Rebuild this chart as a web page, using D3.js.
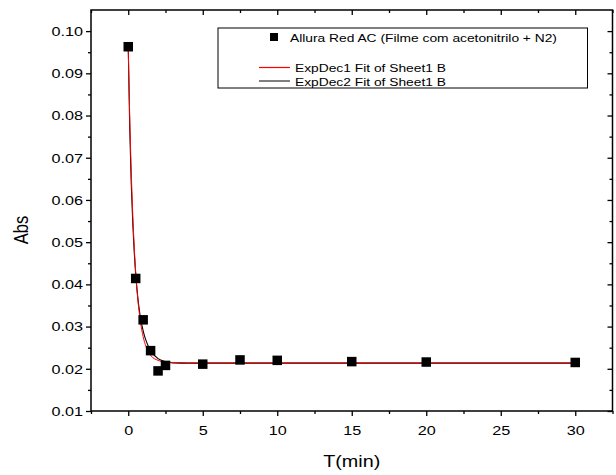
<!DOCTYPE html>
<html><head><meta charset="utf-8">
<script src="https://cdn.jsdelivr.net/npm/d3@7"></script>
<style>body{margin:0;background:#fff}svg{display:block}text{font-family:"Liberation Sans",Arial,sans-serif}</style>
</head><body><svg id="c" width="616" height="475"></svg>
<script>
// Data
const timeMin = [0, 0.5, 1, 1.5, 2, 2.5, 5, 7.5, 10, 15, 20, 30];
const absValues = [0.0963, 0.0414, 0.0316, 0.0243, 0.0195, 0.0208, 0.0211, 0.0221, 0.0220, 0.0217, 0.0216, 0.0215];
// Fit curves
const fitX = [0, 0.1, 0.2, 0.3, 0.4, 0.5, 0.6, 0.8, 1.0, 1.2, 1.5, 2.0, 2.5, 3, 4, 5, 10, 20, 30];
const expDec1 = [0.0962, 0.0797, 0.0668, 0.0568, 0.0490, 0.0429, 0.0381, 0.0316, 0.0276, 0.0252, 0.0232, 0.0220, 0.0216, 0.0215, 0.02145, 0.02145, 0.02145, 0.02145, 0.02145];
const expDec2 = [0.0962, 0.0770, 0.0640, 0.0548, 0.0478, 0.0424, 0.0383, 0.0325, 0.0290, 0.0266, 0.0243, 0.0224, 0.0217, 0.0214, 0.0213, 0.0213, 0.0213, 0.0213, 0.0213];
const xTicks = [0, 5, 10, 15, 20, 25, 30];
const yTicks = [0.01, 0.02, 0.03, 0.04, 0.05, 0.06, 0.07, 0.08, 0.09, 0.10];
const legendLabels = ["Allura Red AC (Filme com acetonitrilo + N2)", "ExpDec1 Fit of Sheet1 B", "ExpDec2 Fit of Sheet1 B"];

const svg = d3.select("#c");
const L = 91, R = 612.5, T = 10, B = 411;
const SX = 1.2; // horizontal text stretch seen in the reference
const x = d3.scaleLinear().domain([-2.5, 32.5]).range([L, R]);
const y = d3.scaleLinear().domain([0.01, 0.105]).range([B, T]);
const xMinor = d3.range(-2.5, 32.6, 5);
const yMinor = d3.range(0.015, 0.101, 0.01);

function styleAxis(g){ g.select(".domain").remove(); g.selectAll("line").attr("stroke","#000").attr("stroke-width",1.3); g.selectAll("text").attr("font-size",13.5).attr("fill","#000"); }

// bottom
svg.append("g").attr("transform",`translate(0,${B})`)
  .call(d3.axisBottom(x).tickValues(xTicks).tickSize(5).tickPadding(9).tickFormat(d3.format("d"))).call(styleAxis)
  .selectAll("text").attr("transform",`scale(${SX},1)`);
svg.append("g").attr("transform",`translate(0,${B})`)
  .call(d3.axisBottom(x).tickValues(xMinor).tickSize(3).tickFormat("")).call(styleAxis);
// top (inward)
svg.append("g").attr("transform",`translate(0,${T})`)
  .call(d3.axisBottom(x).tickValues(xTicks).tickSize(5).tickFormat("")).call(styleAxis);
svg.append("g").attr("transform",`translate(0,${T})`)
  .call(d3.axisBottom(x).tickValues(xMinor).tickSize(3).tickFormat("")).call(styleAxis);
// left
svg.append("g").attr("transform",`translate(${L},0)`)
  .call(d3.axisLeft(y).tickValues(yTicks).tickSize(5).tickPadding(5).tickFormat(d3.format(".2f"))).call(styleAxis)
  .selectAll("text").attr("x",-8/SX).attr("transform",`scale(${SX},1)`);
svg.append("g").attr("transform",`translate(${L},0)`)
  .call(d3.axisLeft(y).tickValues(yMinor).tickSize(3).tickFormat("")).call(styleAxis);
// right (inward)
svg.append("g").attr("transform",`translate(${R},0)`)
  .call(d3.axisLeft(y).tickValues(yTicks).tickSize(5).tickFormat("")).call(styleAxis);
svg.append("g").attr("transform",`translate(${R},0)`)
  .call(d3.axisLeft(y).tickValues(yMinor).tickSize(3).tickFormat("")).call(styleAxis);

// frame
svg.append("rect").attr("x",L).attr("y",T).attr("width",R-L).attr("height",B-T)
  .attr("fill","none").attr("stroke","#000").attr("stroke-width",1.5);

// axis titles
svg.append("text").attr("transform",`translate(${(L+R)/2},467) scale(${SX},1)`).attr("text-anchor","middle").attr("font-size",16.5).text("T(min)");
svg.append("text").attr("transform",`translate(28,230) rotate(-90) scale(1,${SX})`).attr("text-anchor","middle").attr("font-size",16.5).text("Abs");

// curves
const line = d3.line().x(d=>x(d[0])).y(d=>y(d[1])).curve(d3.curveMonotoneX);
svg.append("path").attr("d",line(fitX.map((v,i)=>[v,expDec2[i]]))).attr("fill","none").attr("stroke","#000").attr("stroke-width",1.1);
svg.append("path").attr("d",line(fitX.map((v,i)=>[v,expDec1[i]]))).attr("fill","none").attr("stroke","#ff0000").attr("stroke-width",1);

// points
const s = 9.5;
svg.append("g").selectAll("rect").data(timeMin.map((v,i)=>[v,absValues[i]])).join("rect")
  .attr("x",d=>x(d[0])-s/2).attr("y",d=>y(d[1])-s/2).attr("width",s).attr("height",s).attr("fill","#000");

// legend
const lg = svg.append("g");
lg.append("rect").attr("x",218).attr("y",28).attr("width",369.5).attr("height",60).attr("fill","#fff").attr("stroke","#000").attr("stroke-width",1);
lg.append("rect").attr("x",270).attr("y",33).attr("width",8).attr("height",8).attr("fill","#000");
lg.append("text").attr("transform",`translate(290,41.5) scale(${SX},1)`).attr("font-size",11.5).text(legendLabels[0]);
lg.append("line").attr("x1",259).attr("x2",290).attr("y1",67.5).attr("y2",67.5).attr("stroke","#ff0000").attr("stroke-width",1.2);
lg.append("text").attr("transform",`translate(295,71.5) scale(${SX},1)`).attr("font-size",11.5).text(legendLabels[1]);
lg.append("line").attr("x1",259).attr("x2",290).attr("y1",81).attr("y2",81).attr("stroke","#000").attr("stroke-width",1);
lg.append("text").attr("transform",`translate(295,85.5) scale(${SX},1)`).attr("font-size",11.5).text(legendLabels[2]);
</script></body></html>
